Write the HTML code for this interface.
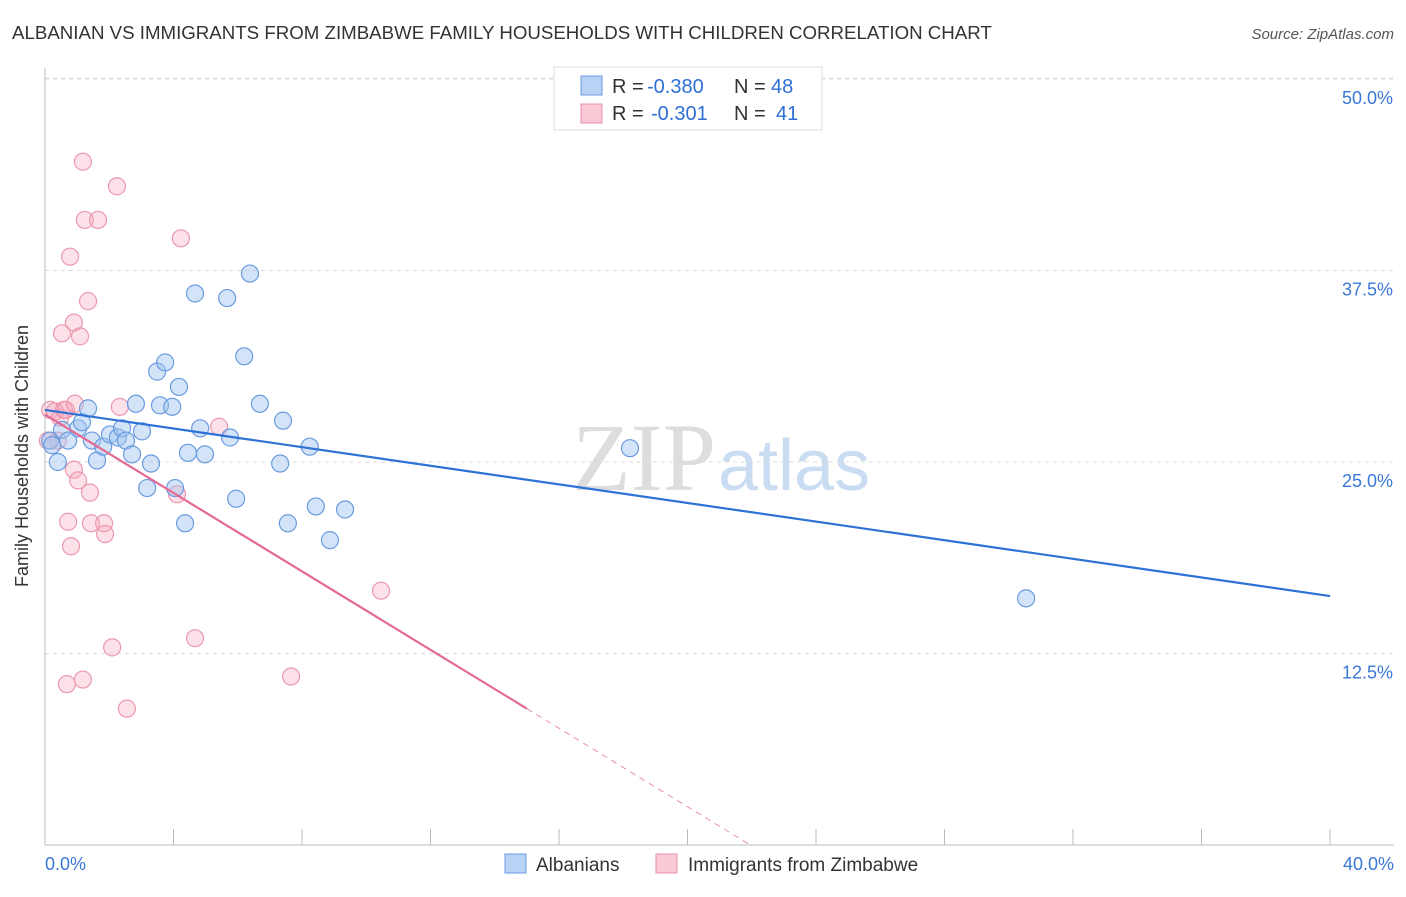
<!DOCTYPE html>
<html><head><meta charset="utf-8"><style>
body{margin:0;background:#fff;font-family:"Liberation Sans",sans-serif;}
</style></head><body>
<svg width="1406" height="892" xmlns="http://www.w3.org/2000/svg" font-family="Liberation Sans, sans-serif">
<text x="12" y="39" font-size="18.7" fill="#333">ALBANIAN VS IMMIGRANTS FROM ZIMBABWE FAMILY HOUSEHOLDS WITH CHILDREN CORRELATION CHART</text>
<text x="1394" y="39" font-size="15" fill="#555" font-style="italic" text-anchor="end">Source: ZipAtlas.com</text>
<text x="716" y="490" font-size="96" fill="#ddd" text-anchor="end" font-family="Liberation Serif, serif">ZIP</text>
<text x="718" y="490" font-size="72" fill="#c9dcf2">atlas</text>
<g id="grid"></g><g id="axes"></g><g id="pts"></g><g id="lines"></g>
<text x="28" y="456" font-size="18" fill="#333" text-anchor="middle" transform="rotate(-90 28 456)">Family Households with Children</text>
<g>
<rect x="554" y="67" width="268" height="63" fill="#fff" stroke="#ddd"/>
<rect x="581" y="76" width="21" height="19" fill="#b8d2f5" stroke="#6a9be0"/>
<text x="612" y="93" font-size="20" fill="#333">R =</text>
<text x="647" y="93" font-size="20" fill="#2e6fd6">-0.380</text>
<text x="734" y="93" font-size="20" fill="#333">N =</text>
<text x="771" y="93" font-size="20" fill="#2e6fd6">48</text>
<rect x="581" y="104" width="21" height="19" fill="#f9c9d6" stroke="#e890a8"/>
<text x="612" y="120" font-size="20" fill="#333">R =</text>
<text x="651" y="120" font-size="20" fill="#2e6fd6">-0.301</text>
<text x="734" y="120" font-size="20" fill="#333">N =</text>
<text x="776" y="120" font-size="20" fill="#2e6fd6">41</text>
</g>
<g>
<rect x="505" y="854" width="21" height="19" fill="#b8d2f5" stroke="#6a9be0"/>
<text x="536" y="871" font-size="19" fill="#333">Albanians</text>
<rect x="656" y="854" width="21" height="19" fill="#f9c9d6" stroke="#e890a8"/>
<text x="688" y="871" font-size="19" fill="#333">Immigrants from Zimbabwe</text>
</g>
</svg>
<script>
const yTicks=[12.5,25,37.5,50];
const yTickLabels=["12.5%","25.0%","37.5%","50.0%"];
const xTickLabels=["0.0%","40.0%"];
const blueX=[0.16,0.22,0.40,0.53,0.72,1.03,1.15,1.34,1.46,1.62,1.81,2.02,2.27,2.40,2.52,2.71,2.83,3.02,3.18,3.30,3.49,3.58,3.74,3.96,4.05,4.17,4.36,4.45,4.67,4.83,4.98,5.67,5.76,5.95,6.20,6.38,6.69,7.32,7.41,7.56,8.24,8.43,8.87,9.34,18.21,30.54];
const blueY=[26.4,26.1,25.0,27.1,26.4,27.2,27.6,28.5,26.4,25.1,26.0,26.8,26.6,27.2,26.4,25.5,28.8,27.0,23.3,24.9,30.9,28.7,31.5,28.6,23.3,29.9,21.0,25.6,36.0,27.2,25.5,35.7,26.6,22.6,31.9,37.3,28.8,24.9,27.7,21.0,26.0,22.1,19.9,21.9,25.9,16.1];
const pinkX=[0.09,0.16,0.31,0.40,0.47,0.59,0.53,0.65,0.72,0.68,0.78,0.81,0.90,0.90,0.93,1.03,1.09,1.18,1.18,1.24,1.34,1.40,1.43,1.65,1.84,1.87,2.09,2.24,2.33,2.55,4.11,4.23,4.67,5.42,7.66,10.46];
const pinkY=[26.4,28.4,28.3,26.4,27.9,28.4,33.4,28.4,21.1,10.5,38.4,19.5,34.1,24.5,28.8,23.8,33.2,44.6,10.8,40.8,35.5,23.0,21.0,40.8,21.0,20.3,12.9,43.0,28.6,8.9,22.9,39.6,13.5,27.3,11.0,16.6];
const blueLine=[28.4,16.25];
const pinkLine=[28.1,-1.28];
const pinkSolidEnd=15;
const NS="http://www.w3.org/2000/svg";
const X=v=>45+v/40*1285, Y=v=>845-v/12.5*191.5;
function mk(t,a,p){const e=document.createElementNS(NS,t);for(const k in a)e.setAttribute(k,a[k]);p.appendChild(e);return e;}
const grid=document.getElementById('grid'),axes=document.getElementById('axes'),pts=document.getElementById('pts'),lines=document.getElementById('lines');
yTicks.forEach((t,i)=>{
 const l=mk('line',{x1:45,x2:1394,y1:Y(t),y2:Y(t),stroke:'#ddd','stroke-dasharray':'4 4'},grid);
 
 
 const tx=mk('text',{x:1393,y:Y(t)+25,'font-size':18,fill:'#3a78d8','text-anchor':'end'},axes);
 tx.textContent=yTickLabels[i];
 
 
});
const topLine=mk('line',{x1:45,x2:1394,y1:78,y2:78,stroke:'#ddd','stroke-dasharray':'4 4'},grid);


const ya=mk('line',{x1:45,x2:45,y1:68,y2:845,stroke:'#bbb'},axes);


const xa=mk('line',{x1:45,x2:1394,y1:845,y2:845,stroke:'#bbb'},axes);


for(let i=0;i<=10;i++){const t=mk('line',{x1:X(i*4),x2:X(i*4),y1:829,y2:845,stroke:'#bbb'},axes);
 
 }
[[0,'start',45],[40,'end',1394]].forEach((d,i)=>{const t=mk('text',{x:d[2],y:870,'font-size':18,fill:'#3a78d8','text-anchor':d[1]},axes);t.textContent=xTickLabels[i];
 
 });
pinkX.forEach((x,i)=>{const c=mk('circle',{cx:X(x),cy:Y(pinkY[i]),r:8.5,fill:'rgba(245,170,190,0.35)',stroke:'#eb98b0','stroke-width':1.2},pts);
 
 });
blueX.forEach((x,i)=>{const c=mk('circle',{cx:X(x),cy:Y(blueY[i]),r:8.5,fill:'rgba(160,196,240,0.45)',stroke:'#6a9be0','stroke-width':1.2},pts);
 
 });
const bl=mk('line',{x1:X(0),y1:Y(blueLine[0]),x2:X(40),y2:Y(blueLine[1]),stroke:'#2e72d6','stroke-width':2.2},lines);


const pz=-pinkLine[0]/pinkLine[1];
const pl=mk('line',{x1:X(0),y1:Y(pinkLine[0]),x2:X(pinkSolidEnd),y2:Y(pinkLine[0]+pinkLine[1]*pinkSolidEnd),stroke:'#e46a94','stroke-width':2.2},lines);


const pd=mk('line',{x1:X(pinkSolidEnd),y1:Y(pinkLine[0]+pinkLine[1]*pinkSolidEnd),x2:X(pz),y2:Y(0),stroke:'#e890a8','stroke-width':1,'stroke-dasharray':'6 5'},lines);


</script>
</body></html>
